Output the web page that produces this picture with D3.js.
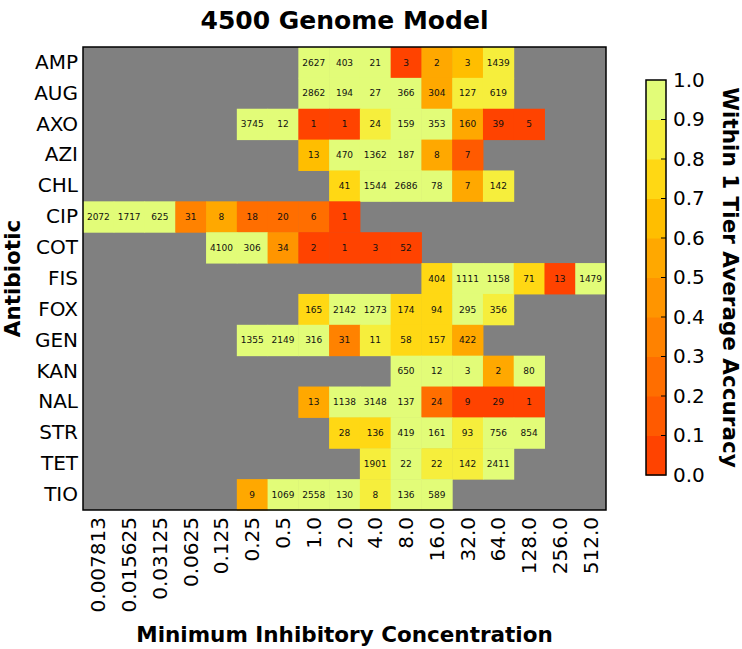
<!DOCTYPE html>
<html>
<head>
<meta charset="utf-8">
<script src="https://cdn.jsdelivr.net/npm/d3@7"></script>
<style>
body { margin:0; background:white; }
text { font-family:"DejaVu Sans", sans-serif; }
</style>
</head>
<body>
<svg id="heat"></svg>
<script>
/* the antibiotic rows and the MIC columns of the heatmap */
var antibiotics = ["AMP","AUG","AXO","AZI","CHL","CIP","COT","FIS","FOX","GEN","KAN","NAL","STR","TET","TIO"];
var micLabels = ["0.007813","0.015625","0.03125","0.0625","0.125","0.25","0.5","1.0","2.0","4.0","8.0","16.0","32.0","64.0","128.0","256.0","512.0"];

/* number of genomes in each cell, null = no data (gray) */
var counts = [
    [null,null,null,null,null,null,null,2627,403,21,3,2,3,1439,null,null,null],
    [null,null,null,null,null,null,null,2862,194,27,366,304,127,619,null,null,null],
    [null,null,null,null,null,3745,12,1,1,24,159,353,160,39,5,null,null],
    [null,null,null,null,null,null,null,13,470,1362,187,8,7,null,null,null,null],
    [null,null,null,null,null,null,null,null,41,1544,2686,78,7,142,null,null,null],
    [2072,1717,625,31,8,18,20,6,1,null,null,null,null,null,null,null,null],
    [null,null,null,null,4100,306,34,2,1,3,52,null,null,null,null,null,null],
    [null,null,null,null,null,null,null,null,null,null,null,404,1111,1158,71,13,1479],
    [null,null,null,null,null,null,null,165,2142,1273,174,94,295,356,null,null,null],
    [null,null,null,null,null,1355,2149,316,31,11,58,157,422,null,null,null,null],
    [null,null,null,null,null,null,null,null,null,null,650,12,3,2,80,null,null],
    [null,null,null,null,null,null,null,13,1138,3148,137,24,9,29,1,null,null],
    [null,null,null,null,null,null,null,null,28,136,419,161,93,756,854,null,null],
    [null,null,null,null,null,null,null,null,null,1901,22,22,142,2411,null,null,null],
    [null,null,null,null,null,9,1069,2558,130,8,136,589,null,null,null,null,null]
];

/* within 1 tier average accuracy of each cell */
var accuracy = [
    [null,null,null,null,null,null,null,0.95,0.95,0.95,0.05,0.55,0.65,0.85,null,null,null],
    [null,null,null,null,null,null,null,0.95,0.95,0.95,0.95,0.55,0.85,0.85,null,null,null],
    [null,null,null,null,null,0.95,0.95,0.05,0.05,0.85,0.95,0.95,0.52,0.05,0.05,null,null],
    [null,null,null,null,null,null,null,0.62,0.95,0.95,0.95,0.55,0.15,null,null,null,null],
    [null,null,null,null,null,null,null,null,0.75,0.95,0.95,0.95,0.52,0.85,null,null,null],
    [0.95,0.95,0.95,0.35,0.55,0.25,0.25,0.2,0.05,null,null,null,null,null,null,null,null],
    [null,null,null,null,0.95,0.95,0.45,0.05,0.05,0.05,0.05,null,null,null,null,null,null],
    [null,null,null,null,null,null,null,null,null,null,null,0.75,0.95,0.95,0.75,0.05,0.95],
    [null,null,null,null,null,null,null,0.75,0.95,0.95,0.75,0.75,0.95,0.85,null,null,null],
    [null,null,null,null,null,0.95,0.95,0.95,0.38,0.85,0.75,0.75,0.55,null,null,null,null],
    [null,null,null,null,null,null,null,null,null,null,0.95,0.95,0.95,0.52,0.95,null,null],
    [null,null,null,null,null,null,null,0.52,0.95,0.95,0.95,0.25,0.05,0.05,0.05,null,null],
    [null,null,null,null,null,null,null,null,0.75,0.75,0.95,0.95,0.85,0.95,0.95,null,null],
    [null,null,null,null,null,null,null,null,null,0.85,0.95,0.85,0.85,0.95,null,null,null],
    [null,null,null,null,null,0.55,0.95,0.95,0.95,0.85,0.95,0.95,null,null,null,null,null]
];

var colorTicks = [0.0,0.1,0.2,0.3,0.4,0.5,0.6,0.7,0.8,0.9,1.0];

/* stepped colormap, one colour per 0.1 band */
var bandColors = ["#ff4300","#ff5a00","#ff6e00","#ff8200","#ff9500",
                  "#ffa800","#ffbe00","#ffd814","#f6ee3c","#e2fc78"];

var initGraph = function(target)
{
    var screen = {width:742, height:649};
    var margins = {top:47, left:83};
    var graph = {width:523, height:463};

    var svg = d3.select(target)
        .attr("width",screen.width)
        .attr("height",screen.height);

    var xScale = d3.scaleBand()
        .domain(micLabels)
        .range([0,graph.width]);

    var yScale = d3.scaleBand()
        .domain(antibiotics)
        .range([0,graph.height]);

    var colorScale = d3.scaleQuantize()
        .domain([0,1])
        .range(bandColors);

    var g = svg.append("g")
        .classed("graph",true)
        .attr("transform","translate("+margins.left+","+margins.top+")");

    //gray background for the empty cells
    g.append("rect")
        .attr("width",graph.width)
        .attr("height",graph.height)
        .attr("fill","#808080");

    //flatten the grid into cells
    var cells = [];
    antibiotics.forEach(function(ab,i)
    {
        micLabels.forEach(function(mic,j)
        {
            if(counts[i][j] != null)
            {
                cells.push({ab:ab, mic:mic, count:counts[i][j], acc:accuracy[i][j]});
            }
        })
    })

    g.selectAll("rect.cell")
        .data(cells)
        .enter()
        .append("rect")
        .classed("cell",true)
        .attr("x",function(d){ return xScale(d.mic); })
        .attr("y",function(d){ return yScale(d.ab); })
        .attr("width",xScale.bandwidth()+0.5)
        .attr("height",yScale.bandwidth()+0.5)
        .attr("fill",function(d){ return colorScale(d.acc); });

    g.selectAll("text.count")
        .data(cells)
        .enter()
        .append("text")
        .classed("count",true)
        .attr("x",function(d){ return xScale(d.mic)+xScale.bandwidth()/2; })
        .attr("y",function(d){ return yScale(d.ab)+yScale.bandwidth()/2; })
        .attr("dy","0.35em")
        .attr("text-anchor","middle")
        .attr("font-size",9)
        .attr("fill","#111")
        .text(function(d){ return d.count; });

    //frame
    g.append("rect")
        .attr("width",graph.width)
        .attr("height",graph.height)
        .attr("fill","none")
        .attr("stroke","black")
        .attr("stroke-width",1.5);

    //axes
    var yAxis = svg.append("g")
        .attr("transform","translate("+margins.left+","+margins.top+")")
        .call(d3.axisLeft(yScale).tickSize(0).tickPadding(5));
    yAxis.select(".domain").remove();
    yAxis.selectAll("text")
        .attr("font-size",20)
        .attr("font-family","DejaVu Sans")
        .attr("fill","black");

    var xAxis = svg.append("g")
        .attr("transform","translate("+margins.left+","+(margins.top+graph.height)+")")
        .call(d3.axisBottom(xScale).tickSize(0));
    xAxis.select(".domain").remove();
    xAxis.selectAll("text")
        .attr("font-size",20)
        .attr("font-family","DejaVu Sans")
        .attr("fill","black")
        .attr("text-anchor","end")
        .attr("transform","rotate(-90)")
        .attr("x",-7)
        .attr("y",0)
        .attr("dy","0.35em");

    //titles
    svg.append("text")
        .attr("x",margins.left+graph.width/2)
        .attr("y",29)
        .attr("text-anchor","middle")
        .attr("font-size",25)
        .attr("font-weight","bold")
        .text("4500 Genome Model");

    svg.append("text")
        .attr("x",margins.left+graph.width/2)
        .attr("y",642)
        .attr("text-anchor","middle")
        .attr("font-size",21.5)
        .attr("font-weight","bold")
        .text("Minimum Inhibitory Concentration");

    svg.append("text")
        .attr("transform","translate(20,"+(margins.top+graph.height/2)+") rotate(-90)")
        .attr("text-anchor","middle")
        .attr("font-size",21.5)
        .attr("font-weight","bold")
        .text("Antibiotic");

    drawColorbar(svg,colorScale);
}

/* this function draws the stepped colorbar at the right */
var drawColorbar = function(svg,colorScale)
{
    var bar = {x:646, y:80, width:20, height:395};

    var cScale = d3.scaleLinear()
        .domain([0,1])
        .range([bar.y+bar.height,bar.y]);

    var cb = svg.append("g");

    cb.selectAll("rect.band")
        .data(bandColors)
        .enter()
        .append("rect")
        .classed("band",true)
        .attr("x",bar.x)
        .attr("y",function(c,i){ return cScale((i+1)/10); })
        .attr("width",bar.width)
        .attr("height",function(c,i){ return cScale(i/10)-cScale((i+1)/10)+0.5; })
        .attr("fill",function(c){ return c; });

    var axis = cb.append("g")
        .attr("transform","translate("+(bar.x+bar.width)+",0)")
        .call(d3.axisRight(cScale).tickValues(colorTicks)
              .tickFormat(d3.format(".1f")).tickSize(0).tickPadding(7));
    axis.select(".domain").remove();
    axis.selectAll("text")
        .attr("font-size",20)
        .attr("font-family","DejaVu Sans")
        .attr("fill","black");

    //inward tick marks
    cb.selectAll("line.ctick")
        .data(colorTicks.slice(1,-1))
        .enter()
        .append("line")
        .classed("ctick",true)
        .attr("x1",bar.x+bar.width-5)
        .attr("x2",bar.x+bar.width)
        .attr("y1",function(d){ return cScale(d); })
        .attr("y2",function(d){ return cScale(d); })
        .attr("stroke","black")
        .attr("stroke-width",1);

    cb.append("rect")
        .attr("x",bar.x)
        .attr("y",bar.y)
        .attr("width",bar.width)
        .attr("height",bar.height)
        .attr("fill","none")
        .attr("stroke","black")
        .attr("stroke-width",1.5);

    cb.append("text")
        .attr("transform","translate(723,"+(bar.y+bar.height/2)+") rotate(90)")
        .attr("text-anchor","middle")
        .attr("font-size",21.5)
        .attr("font-weight","bold")
        .text("Within 1 Tier Average Accuracy");
}

initGraph("#heat");
</script>
</body>
</html>
